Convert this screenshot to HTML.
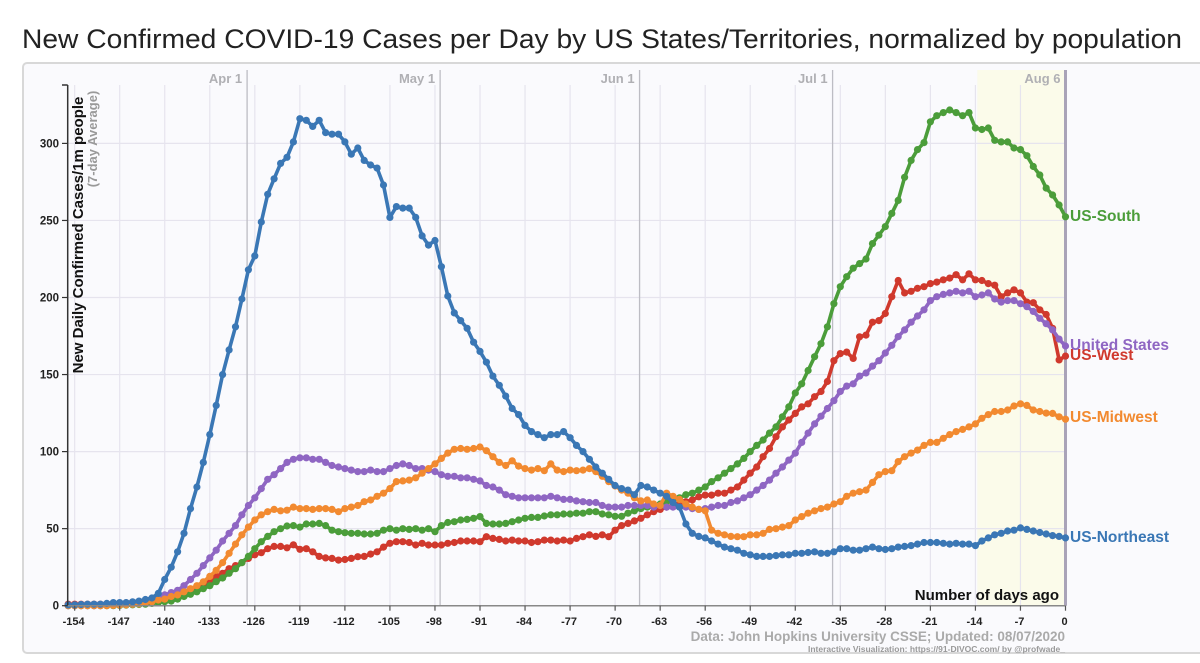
<!DOCTYPE html>
<html><head><meta charset="utf-8">
<style>
html,body{margin:0;padding:0;background:#fff;}
body{width:1200px;height:658px;overflow:hidden;font-family:"Liberation Sans",sans-serif;}
</style></head>
<body>
<svg id="chart" width="1200" height="658" viewBox="0 0 1200 658" xmlns="http://www.w3.org/2000/svg" font-family="Liberation Sans, sans-serif">
<text x="22" y="48" font-size="27" fill="#222" textLength="1160" lengthAdjust="spacingAndGlyphs">New Confirmed COVID-19 Cases per Day by US States/Territories, normalized by population</text>
<rect x="23" y="63" width="1190" height="590" rx="4" fill="#fafafd" stroke="#d8d8d8" stroke-width="2"/>
<g id="grid"></g>
<g id="marks"></g>
<g id="axes"></g>
</svg>
<script>
const tickDays = [-154,-147,-140,-133,-126,-119,-112,-105,-98,-91,-84,-77,-70,-63,-56,-49,-42,-35,-28,-21,-14,-7,0];
const yTicks = [0,50,100,150,200,250,300];
const monthLabels = ["Apr 1","May 1","Jun 1","Jul 1","Aug 6"];
const monthDays = [-127.2,-97.2,-66.2,-36.2,0];
const seriesNames = ["US-West","US-South","United States","US-Midwest","US-Northeast"];
const west = [1,1,1,1,1,1,1,1.2,1.5,1.8,2,2.3,2.6,3,3.3,
3.7,4.8,6,8.4,10,12,14,16.7,19,21,24,26,28,30.7,33,34.4,37,38.5,38.5,37.6,39.5,36.6,37,35,32,31,30.7,29.6,30,30.7,31.8,32,33.5,35,38,40.5,41.5,41.5,41,39.4,40.5,39.4,39.4,39.4,40.5,41,42,42,42,41.5,44.8,43.7,43,42,42.6,42,42,41,41.5,42.6,42.6,42,42.6,42,43.7,44.8,46,45,
46,44.8,49,52,53.4,55,56.7,59,61,62.5,64,65,66,67.5,68.6,70.7,71.8,71.8,73,73,75,77,81.5,86,90,96.7,102,109.7,116,120.5,124.8,129,131,135.6,139,145.5,159,163.6,164.6,160.5,174.5,175.6,184,185,189.6,200.5,211,203,204,206,207,209,210,211.5,212.6,214.8,211.5,215.4,211.5,211,209,208,200.5,203,205,203,197,196.6,192,189,180,159.5,162];
const south = [0,0,0,0,0,0,0,0,0.2,0.4,0.6,0.8,1,1.5,2,
2.6,3,4.3,6,7.4,9,11,13,15.6,18,21,24,28,32,37,41.5,45,48,50,51.7,52,51,53,53,53.4,52,49,48,47.4,47,47,46.5,46.5,47,49,50,49,50,49.5,50,49,50,48,52,54,54.5,55.6,56,56.7,57.8,53.4,53,53,53.4,54.5,55.6,56.7,57.3,57.3,58.2,59,59,59.5,59.5,60,60,61,61,
59.5,59,58,58,60,61.6,63,64,65,66,67.5,68.6,70,72,73,75,77,80.5,83,86,89,92,95.6,100,104,107.5,112,116,122.6,129,138,144,152.6,161.6,170,181,196,
207,213.5,219,222,225,235,240.5,246,254.6,263,278,289,296,300.5,314,318,320,321.7,320,318,320,310,309,310,302,301,301,297,296,292,285,279.5,271,266.5,260,252.4];
const usa = [0,0,0,0,0,0,0.3,0.5,0.8,1,1.3,2,2.5,3.5,5,
7,8.5,10,13,17,21,26,31,36,42,47,52,59,65,70,76,82,85,89,93,95,96,96,95,95,93,91,90,89,88,87,87,88,87,87,89,91,92,91,89,89,88,87,85,84,84,83,83,82,81,78,77,75,72,71,70,70,70,70,70,71,70,69,69,68,67.5,67,
67,65,64,64,64,65,65,65,65,64,65,64,64,64,64,63,62.5,63,64,65,65,67,68,70,72,75,78,81.5,86,90,94.5,99,106,112,118,123,128,133,139,142.5,144,149,151,155.5,159,164,169,174.6,179,184,188,192,198,200.5,202,203,204,203,204,200.5,201.6,203,199,197,198,198,196,194,191,186.5,183,179,173,168.5];
const midwest = [0,0,0,0,0,0,0,0.2,0.4,0.6,0.9,1.2,1.8,2.5,
3.7,4.3,6,7,9,11,13,15.5,19,23,28,34,40,46,51,55.6,59,61,62.5,61.6,62,64,63,63,62.5,63,63,62.5,61,63,64,65,67.5,68.6,71,73,76,80.5,81,81.5,83,86,89,92,95.6,99,101.5,102,101.5,102,103,100.6,96.7,93,91,94,90.6,89,88,89,87.6,92,88,87,88,87.6,88,89,87,
84,80.5,77.7,75,73,70,68,68.6,66,65,73,71,69,66,64,62.5,61.6,49,47,46,45,44.8,44.8,46,46,47,49.5,50,51,52,55.6,57.8,60,61.6,63,64,66,67.5,71,73,74,75,80,85,87,87.6,93.5,96.7,99,101,104,106,106,108.6,111,113,114.4,116,118,121.6,124,126,126,127,129.6,131,130,127,126,125,124.8,122.6,121];
const northeast = [0.5,0.5,0.8,1,1,1,1.5,2,2,2,2.5,3,4,5,8,17,25,35,47,63,77,93,111,130,150,166,181,199,218,227,249,267,277,287,291,301,316,315,311,315,307,306,306,301,293,297,289,286,284,273,252,259,258,258,252,240,234,237,220,201,190,185,180,171,165,158,149,143,136,128,124,117,113,111,109,111,111,113,109,
104,
100,95,90,86,82,78,76,75,72,78,77,75,73,71,67,64,53,47,45,44,42,40,38,37,36,34,33,32,32,32,32.5,33,33,34,34,34.5,35,34,34,35,37,37,36,36,37,38,37,36.5,37,38,38.5,39,40,41,41,41,40.5,40,40.5,40,40,39,42,44,46,47,48.5,49,50.5,49.5,48.5,47.5,46.5,45.5,45,44];

const NS='http://www.w3.org/2000/svg';
const X0=1065.5, DX=6.434, Y0=605.7, KY=1.541;
function xs(d){return X0+d*DX;}
function ys(v){return Y0-v*KY;}
function mk(tag,attrs,parent,text){const e=document.createElementNS(NS,tag);for(const k in attrs)e.setAttribute(k,attrs[k]);if(text!==undefined)e.textContent=text;parent.appendChild(e);return e;}
const grid=document.getElementById('grid'), marks=document.getElementById('marks'), axes=document.getElementById('axes');

// recent shading
let sh=mk('rect',{x:xs(-13.7),y:70,width:xs(0)-xs(-13.7),height:Y0-70,fill:'#fbfbea'},grid);


// vertical grid
tickDays.forEach(d=>{
  let l=mk('line',{x1:xs(d),x2:xs(d),y1:85,y2:Y0,stroke:'#e6e4ee','stroke-width':1.2},grid);
  
  
});
yTicks.forEach(v=>{
  if(v===0)return;
  let l=mk('line',{x1:67.7,x2:xs(0),y1:ys(v),y2:ys(v),stroke:'#e6e4ee','stroke-width':1.2},grid);
  
  
});
// month lines
monthDays.forEach((d,i)=>{
  const last=i===monthDays.length-1;
  let l=mk('line',{x1:xs(d),x2:xs(d),y1:70,y2:Y0,stroke:last?'#a9a3b8':'#bdbdc4','stroke-width':last?3:1.3},grid);
  
  
  let t=mk('text',{x:xs(d)-5,y:83,'text-anchor':'end','font-size':13,'font-weight':'bold',fill:'#b0b0b4'},grid,monthLabels[i]);
  
  
});

const colors=['#d0392d','#4b9d3a','#8f66c3','#f28a30','#3a77b5'];
const dataSets=[west,south,usa,midwest,northeast];
const labelY=[355,216,345,417,537];
dataSets.forEach((arr,si)=>{
  const n=arr.length;
  const pts=arr.map((v,i)=>[xs(i-(n-1)),ys(v)]);
  let g=mk('g',{},marks);
  
  
  let p=mk('path',{d:'M'+pts.map(q=>q[0].toFixed(1)+','+q[1].toFixed(1)).join('L'),fill:'none',stroke:colors[si],'stroke-width':3.6,'stroke-linejoin':'round'},g);
  
  
  pts.forEach(q=>{
    let c=mk('circle',{cx:q[0].toFixed(1),cy:q[1].toFixed(1),r:3.6,fill:colors[si]},g);
    
    
  });
  let t=mk('text',{x:1070,y:labelY[si]+5,'font-size':15.5,'font-weight':'bold',fill:colors[si]},marks,seriesNames[si]);
  
  
});

// axes
let ya=mk('line',{x1:67.7,x2:67.7,y1:85,y2:Y0,stroke:'#333','stroke-width':1.5},axes);


let yat=mk('line',{x1:62,x2:67.7,y1:85,y2:85,stroke:'#333','stroke-width':1.5},axes);


let xa=mk('line',{x1:67.7,x2:xs(0),y1:Y0,y2:Y0,stroke:'#888','stroke-width':1.5},axes);


yTicks.forEach(v=>{
  let tk=mk('line',{x1:62,x2:67.7,y1:ys(v),y2:ys(v),stroke:'#333','stroke-width':1.2},axes);
  
  
  let t=mk('text',{x:59,y:ys(v)+4,'text-anchor':'end','font-size':11.5,'font-weight':'bold',fill:'#222'},axes,String(v));
  
  
});
tickDays.forEach(d=>{
  let tk=mk('line',{x1:xs(d),x2:xs(d),y1:Y0,y2:Y0+5,stroke:'#555','stroke-width':1.2},axes);
  
  
  let t=mk('text',{x:xs(d)-1,y:625,'text-anchor':'middle','font-size':11,'font-weight':'bold',fill:'#222'},axes,String(d));
  
  
});
let yt=mk('text',{transform:'translate(83,235) rotate(-90)','text-anchor':'middle','font-size':15,'font-weight':'bold',fill:'#111'},axes,'New Daily Confirmed Cases/1m people');


let ys2=mk('text',{transform:'translate(97,139) rotate(-90)','text-anchor':'middle','font-size':13,'font-weight':'bold',fill:'#999'},axes,'(7-day Average)');


let xt=mk('text',{x:1059,y:600,'text-anchor':'end','font-size':15,'font-weight':'bold',fill:'#111'},axes,'Number of days ago');


let s1=mk('text',{x:1065,y:641,'text-anchor':'end','font-size':13.5,'font-weight':'bold',fill:'#aaa'},axes,'Data: John Hopkins University CSSE; Updated: 08/07/2020');


let s2=mk('text',{x:1065,y:652,'text-anchor':'end','font-size':8.5,'font-weight':'bold',fill:'#999'},axes,'Interactive Visualization: https://91-DIVOC.com/ by @profwade_');


</script>
</body></html>
